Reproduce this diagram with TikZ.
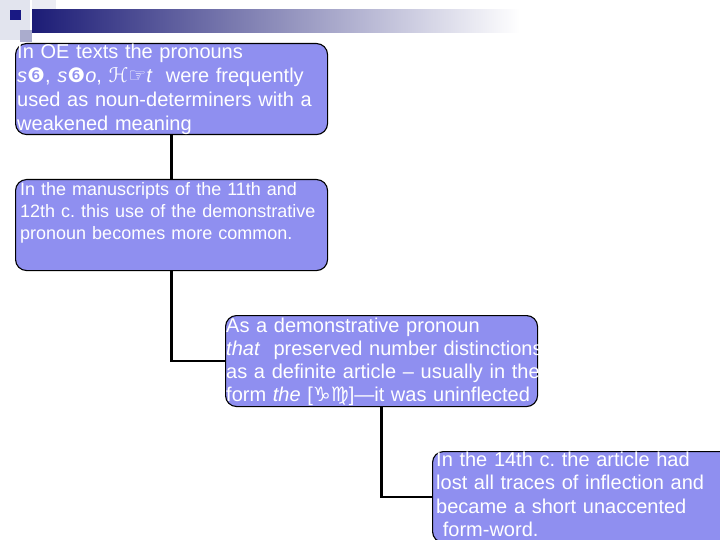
\documentclass[tikz,border=0pt]{standalone}
\usepackage{fontspec}
\setmainfont{Liberation Sans}
\newfontfamily\glyphfont{DejaVu Sans}
\definecolor{cardblue}{RGB}{143,143,240}
\definecolor{bannernavy}{RGB}{28,28,118}
\definecolor{bannerpale}{RGB}{226,228,238}
\definecolor{bannermid}{RGB}{170,172,205}
\frenchspacing

\begin{document}
\begin{tikzpicture}[x=1pt,y=-1pt,
    card/.style={draw=black, line width=1.1pt, rounded corners=11pt, fill=cardblue,
                 anchor=north west, minimum width=312pt, minimum height=91pt, inner sep=0pt},
    cardtext/.style={anchor=base west, inner sep=0pt, text=white, text width=340pt, align=left},
    link/.style={line width=2.6pt}]
    \useasboundingbox (0,0) rectangle (720,540);
    \clip (0,0) rectangle (720,540);
    \fill[bannerpale] (0,0) rectangle (30,40);
    \fill[bannerpale!70!white] (32,0) rectangle (56,24);
    \fill[bannermid] (20,30) rectangle (32,42);
    \shade[left color=bannernavy, right color=white] (32,10) rectangle (520,33);
    \fill[bannernavy!90!blue] (10,10) rectangle (21,20);
    \node[card] (b1) at (15,43) {};
    \node[card] (b2) at (15,179) {};
    \node[card] (b3) at (225,315) {};
    \node[card] (b4) at (432,451) {};
    \draw[link] (b1.south) -- (b2.north);
    \draw[link] (b2.south) |- (b3.west);
    \draw[link] (b3.south) |- (b4.west);
    \node[cardtext, font=\fontsize{20}{24}\selectfont] (t1) at (17,59)
        {In OE texts the pronouns\\
         \textit{s}{\glyphfont ❻}, \textit{s}{\glyphfont ❻}\textit{o}, {\glyphfont ℋ☞}\textit{t}\ \ were frequently\\
         used as noun-determiners with a\\
         weakened meaning};
    \node[cardtext, font=\fontsize{18}{22}\selectfont] (t2) at (20,196)
        {In the manuscripts of the 11th and\\
         12th c. this use of the demonstrative\\
         pronoun becomes more common.};
    \node[cardtext, font=\fontsize{20}{23}\selectfont] (t3) at (226,332)
        {As a demonstrative pronoun\\
         \textit{that}\ \ preserved number distinctions\\
         as a definite article -- usually in the\\
         form \textit{the} [{\glyphfont ♑♍}]---it was uninflected};
    \node[cardtext, font=\fontsize{20}{23.5}\selectfont] (t4) at (436,466)
        {In the 14th c. the article had\\
         lost all traces of inflection and\\
         became a short unaccented\\
         \ form-word.};
\end{tikzpicture}
\end{document}
